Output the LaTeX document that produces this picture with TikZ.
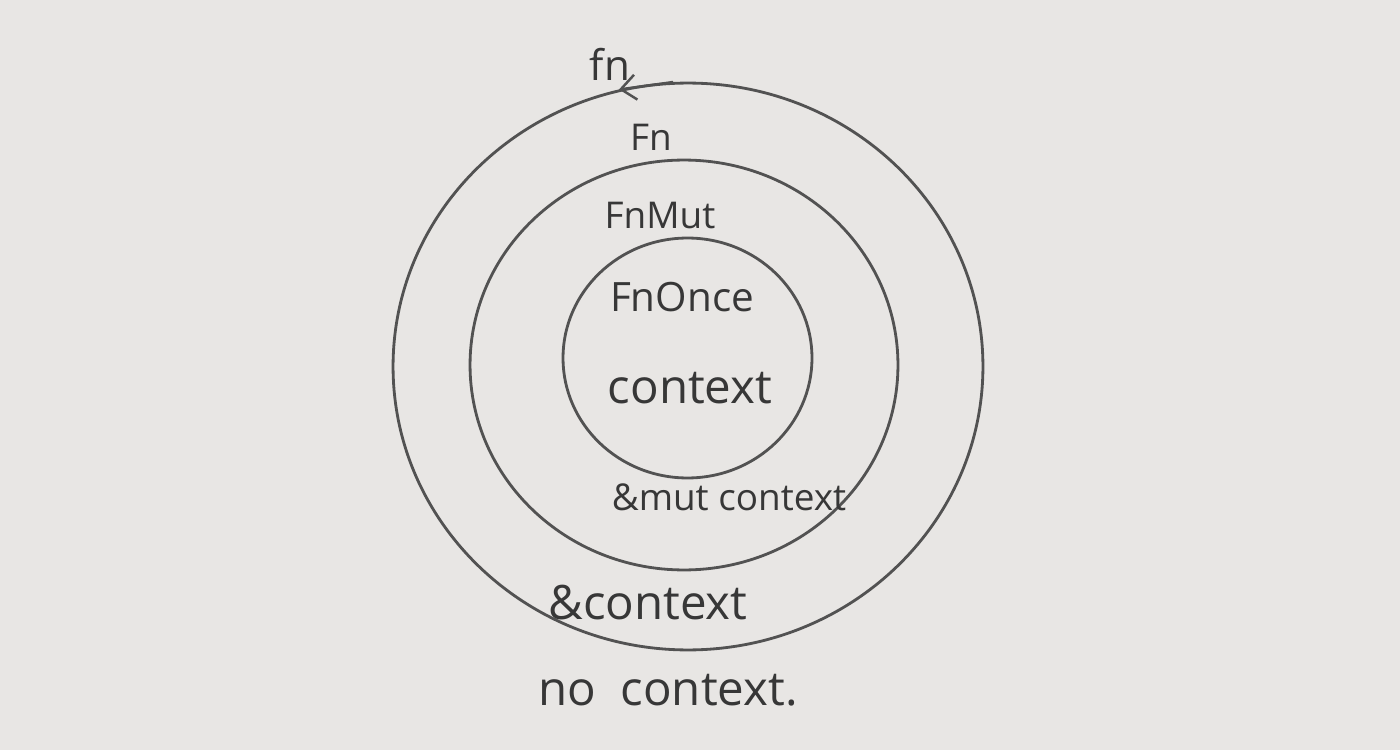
\documentclass[tikz,border=0pt]{standalone}
\usepackage{fontspec}
\setmainfont{Open Sans}
\usetikzlibrary{shapes.geometric,arrows.meta}
\definecolor{paper}{RGB}{232,230,228}
\definecolor{pencil}{RGB}{82,82,82}
\definecolor{ink}{RGB}{55,55,55}
\begin{document}
\begin{tikzpicture}[
    x=0.02cm, y=-0.02cm,
    ring/.style={ellipse, draw=pencil, line width=1.6pt, inner sep=0pt},
    label/.style={text=ink, inner sep=0pt},
    pointer/.style={draw=pencil, line width=1.4pt, -{Straight Barb[length=3mm,width=5mm]}}
]
    \fill [paper] (0,0) rectangle (1400,750);
    \useasboundingbox (0,0) rectangle (1400,750);

    \node [ring, minimum width=11.8cm, minimum height=11.34cm] (outer) at (688,366.5) {};
    \node [ring, minimum width=8.56cm, minimum height=8.2cm] (middle) at (684,365) {};
    \node [ring, minimum width=4.98cm, minimum height=4.8cm] (inner) at (687.5,358) {};

    \node [label, font=\fontsize{24}{28}\selectfont] (fn) at (610,64) {fn};
    \node [label, font=\fontsize{21}{25}\selectfont] (Fn) at (651,137) {Fn};
    \node [label, font=\fontsize{21}{25}\selectfont] (FnMut) at (660,216) {FnMut};
    \node [label, font=\fontsize{23}{27}\selectfont] (FnOnce) at (682,297) {FnOnce};
    \node [label, font=\fontsize{27}{31}\selectfont] (ctx) at (690,388) {context};
    \node [label, font=\fontsize{21}{25}\selectfont] (mutctx) at (729,497) {\&mut context};
    \node [label, font=\fontsize{27}{31}\selectfont] (refctx) at (648,603) {\&context};
    \node [label, font=\fontsize{27}{31}\selectfont] (noctx) at (668,690) {no\ \ context.};

    \draw [pointer] (outer.93) -- (outer.104);
\end{tikzpicture}
\end{document}
